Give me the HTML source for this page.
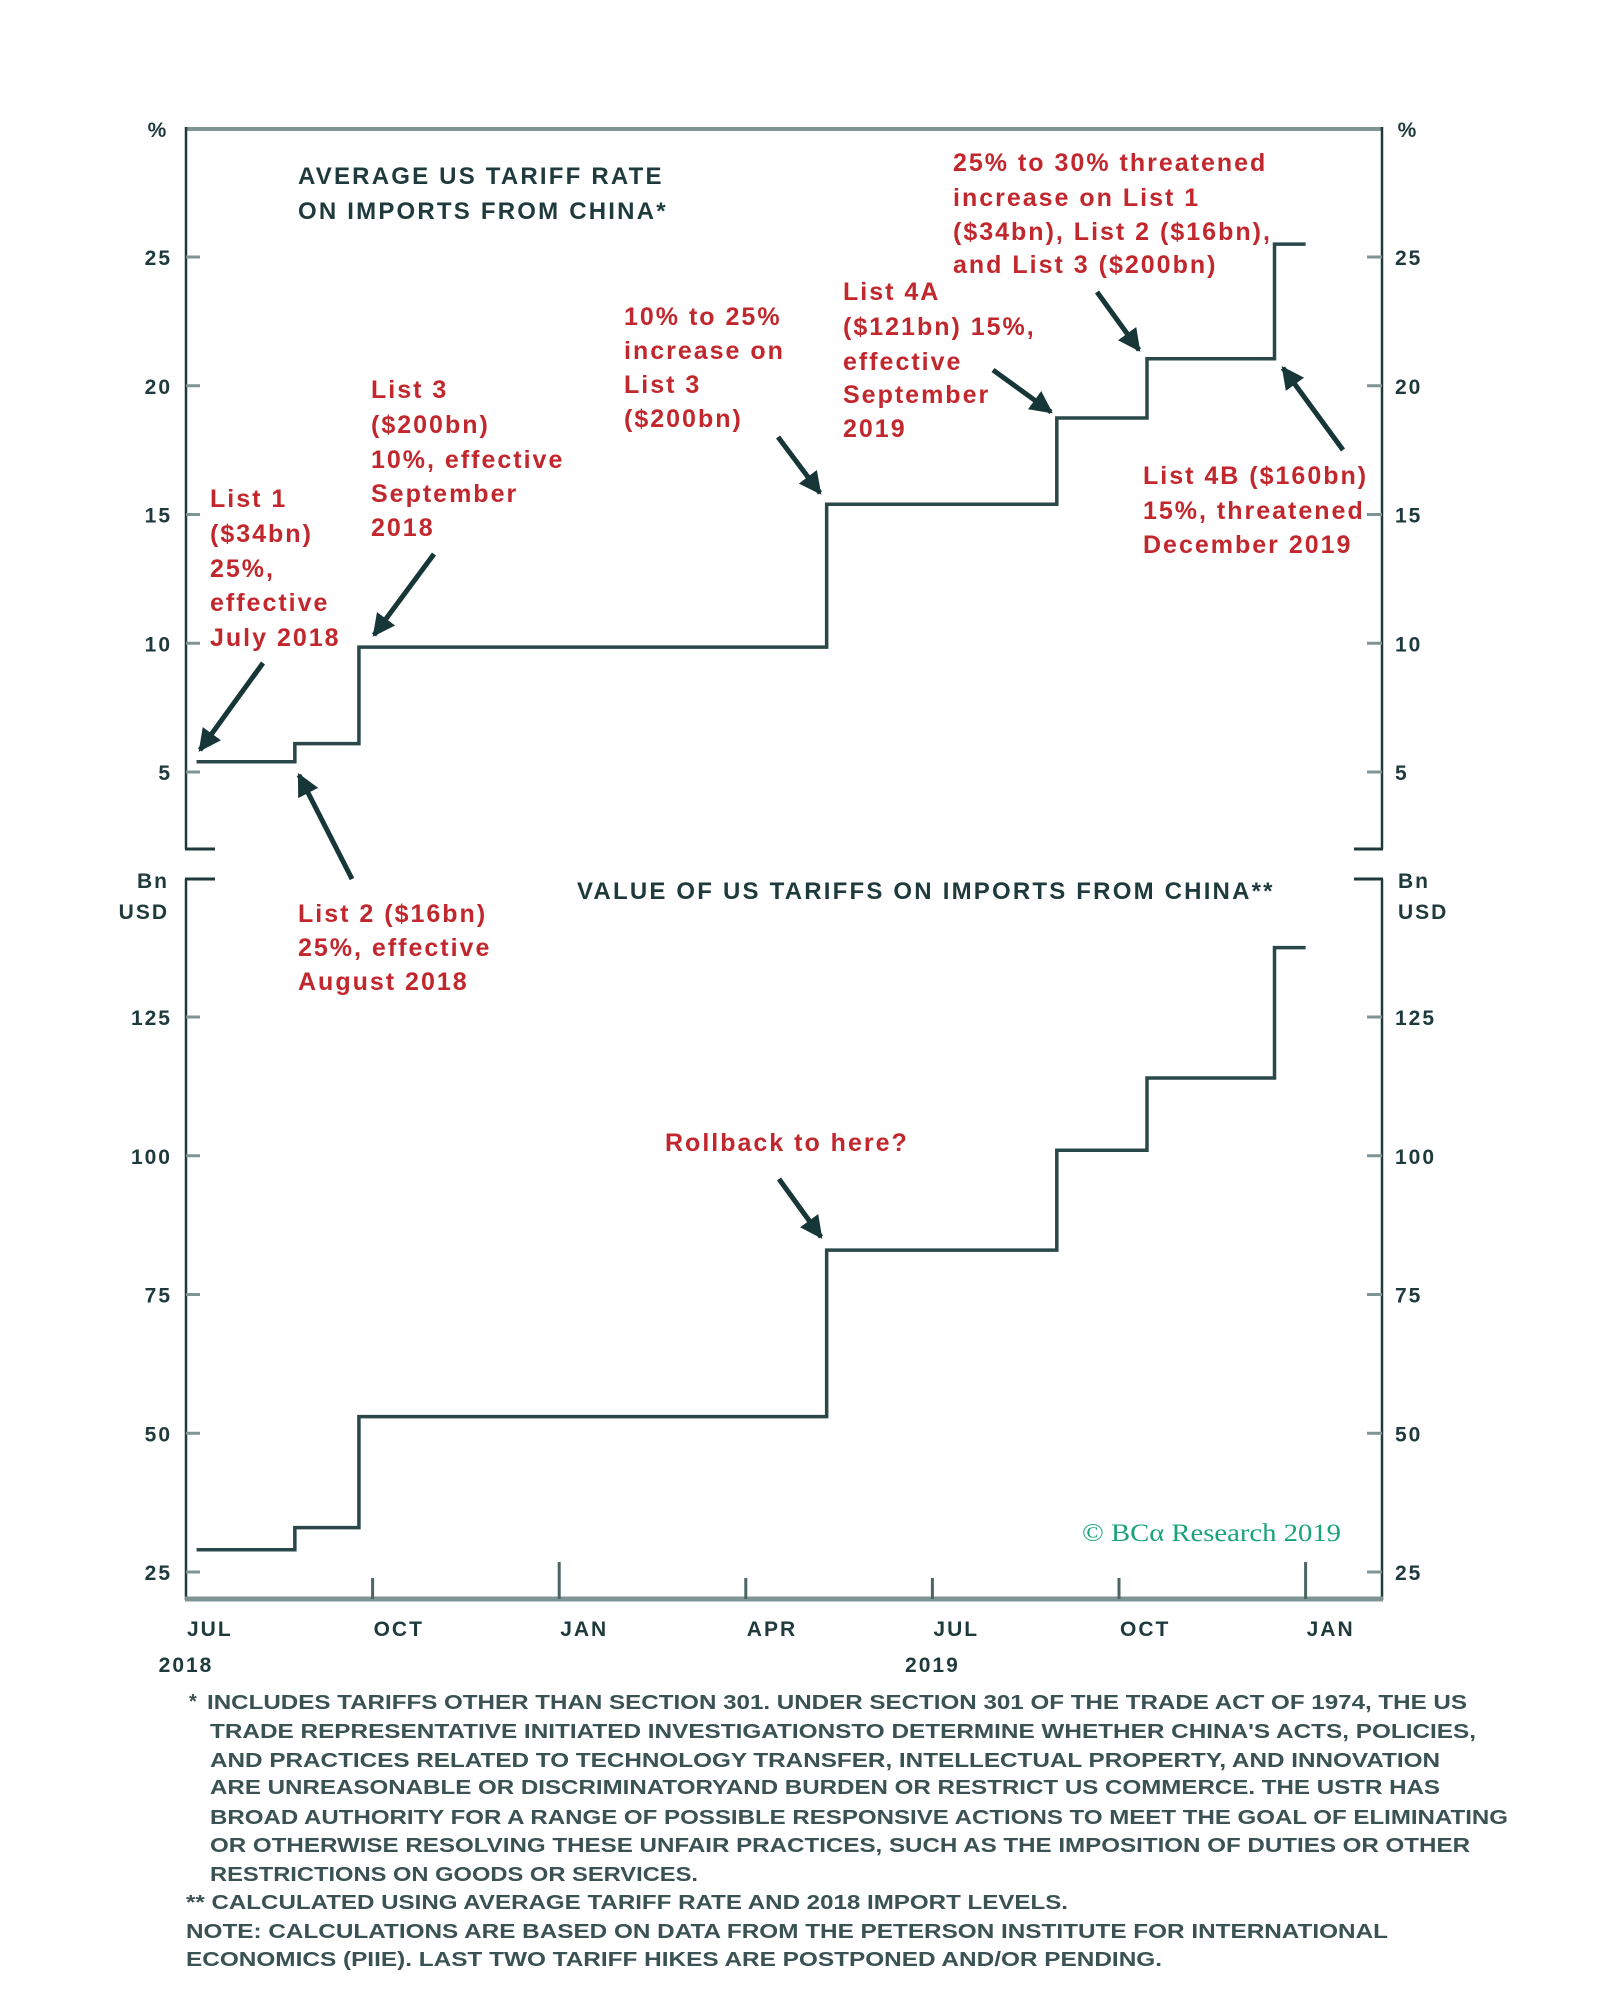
<!DOCTYPE html>
<html><head><meta charset="utf-8"><style>
html,body{margin:0;padding:0;background:#fff;}
svg{display:block;font-family:"Liberation Sans",sans-serif;}
.red{fill:#c1272d;font-weight:bold;font-size:25px;letter-spacing:2px;}
.tk{fill:#1f3a3c;font-weight:bold;font-size:21px;letter-spacing:2px;}
.fn{fill:#3a5253;font-weight:bold;font-size:20px;}
.ttl{fill:#1f3a3c;font-weight:bold;font-size:24px;letter-spacing:2.2px;}
</style></head><body>
<svg id="chart" width="1600" height="2012" viewBox="0 0 1600 2012">
<defs><marker id="ah" viewBox="0 0 10 10" refX="9" refY="5" markerWidth="4.5" markerHeight="4.5" orient="auto"><path d="M0,0 L10,5 L0,10 Z" fill="#173638"/></marker></defs>
<g id="frame">
 <line x1="186" y1="129" x2="1382" y2="129" stroke="#7f9494" stroke-width="4"/>
 <line x1="186" y1="127" x2="186" y2="849" stroke="#1f3a3c" stroke-width="2.5"/>
 <line x1="1382" y1="127" x2="1382" y2="849" stroke="#1f3a3c" stroke-width="2.5"/>
 <line x1="185" y1="849" x2="215" y2="849" stroke="#1f3a3c" stroke-width="3"/>
 <line x1="1354" y1="849" x2="1383" y2="849" stroke="#1f3a3c" stroke-width="3"/>
 <line x1="185" y1="879" x2="215" y2="879" stroke="#1f3a3c" stroke-width="3"/>
 <line x1="1354" y1="879" x2="1383" y2="879" stroke="#1f3a3c" stroke-width="3"/>
 <line x1="186" y1="879" x2="186" y2="1600" stroke="#1f3a3c" stroke-width="2.5"/>
 <line x1="1382" y1="879" x2="1382" y2="1600" stroke="#1f3a3c" stroke-width="2.5"/>
 <line x1="185" y1="1599" x2="1383" y2="1599" stroke="#7f9494" stroke-width="5"/>
</g>
<g id="axes"></g>
<g id="series"></g>
<g>
 <text class="ttl"><tspan x="298" y="184">AVERAGE US TARIFF RATE</tspan><tspan x="298" y="219">ON IMPORTS FROM CHINA*</tspan></text>
 <text class="ttl" x="577" y="899">VALUE OF US TARIFFS ON IMPORTS FROM CHINA**</text>
 <text class="tk" x="158" y="137" text-anchor="middle">%</text>
 <text class="tk" x="1408" y="137" text-anchor="middle">%</text>
 <text class="tk" x="169" y="888" text-anchor="end">Bn</text>
 <text class="tk" x="169" y="919" text-anchor="end">USD</text>
 <text class="tk" x="1398" y="888">Bn</text>
 <text class="tk" x="1398" y="919">USD</text>
 <text class="red"><tspan x="210" y="507">List 1</tspan><tspan x="210" y="542">($34bn)</tspan><tspan x="210" y="577">25%,</tspan><tspan x="210" y="611">effective</tspan><tspan x="210" y="646">July 2018</tspan></text>
 <text class="red"><tspan x="371" y="398">List 3</tspan><tspan x="371" y="433">($200bn)</tspan><tspan x="371" y="468">10%, effective</tspan><tspan x="371" y="502">September</tspan><tspan x="371" y="536">2018</tspan></text>
 <text class="red"><tspan x="624" y="325">10% to 25%</tspan><tspan x="624" y="359">increase on</tspan><tspan x="624" y="393">List 3</tspan><tspan x="624" y="427">($200bn)</tspan></text>
 <text class="red"><tspan x="843" y="300">List 4A</tspan><tspan x="843" y="335">($121bn) 15%,</tspan><tspan x="843" y="370">effective</tspan><tspan x="843" y="403">September</tspan><tspan x="843" y="437">2019</tspan></text>
 <text class="red"><tspan x="953" y="171">25% to 30% threatened</tspan><tspan x="953" y="206">increase on List 1</tspan><tspan x="953" y="240">($34bn), List 2 ($16bn),</tspan><tspan x="953" y="273">and List 3 ($200bn)</tspan></text>
 <text class="red"><tspan x="1143" y="484">List 4B ($160bn)</tspan><tspan x="1143" y="519">15%, threatened</tspan><tspan x="1143" y="553">December 2019</tspan></text>
 <text class="red"><tspan x="298" y="922">List 2 ($16bn)</tspan><tspan x="298" y="956">25%, effective</tspan><tspan x="298" y="990">August 2018</tspan></text>
 <text class="red" x="665" y="1151">Rollback to here?</text>
 <text x="1082" y="1541" fill="#1aa37a" font-family="'Liberation Serif',serif" font-size="25" textLength="259" lengthAdjust="spacingAndGlyphs">© BCα Research 2019</text>
</g>
<g stroke="#173638" stroke-width="5" marker-end="url(#ah)">
 <line x1="263" y1="663" x2="200" y2="750"/>
 <line x1="434" y1="554" x2="374" y2="635"/>
 <line x1="778" y1="437" x2="820" y2="493"/>
 <line x1="993" y1="370" x2="1051" y2="412"/>
 <line x1="1097" y1="292" x2="1139" y2="350"/>
 <line x1="1343" y1="450" x2="1283" y2="368"/>
 <line x1="352" y1="879" x2="299" y2="775"/>
 <line x1="779" y1="1179" x2="821" y2="1237"/>
</g>
<g>
 <text class="fn" x="189" y="1708">*</text>
 <text class="fn" x="207" y="1709" textLength="1260" lengthAdjust="spacingAndGlyphs">INCLUDES TARIFFS OTHER THAN SECTION 301. UNDER SECTION 301 OF THE TRADE ACT OF 1974, THE US</text>
 <text class="fn" x="210" y="1738" textLength="1266" lengthAdjust="spacingAndGlyphs">TRADE REPRESENTATIVE INITIATED INVESTIGATIONSTO DETERMINE WHETHER CHINA'S ACTS, POLICIES,</text>
 <text class="fn" x="210" y="1767" textLength="1230" lengthAdjust="spacingAndGlyphs">AND PRACTICES RELATED TO TECHNOLOGY TRANSFER, INTELLECTUAL PROPERTY, AND INNOVATION</text>
 <text class="fn" x="210" y="1794" textLength="1230" lengthAdjust="spacingAndGlyphs">ARE UNREASONABLE OR DISCRIMINATORYAND BURDEN OR RESTRICT US COMMERCE. THE USTR HAS</text>
 <text class="fn" x="210" y="1824" textLength="1298" lengthAdjust="spacingAndGlyphs">BROAD AUTHORITY FOR A RANGE OF POSSIBLE RESPONSIVE ACTIONS TO MEET THE GOAL OF ELIMINATING</text>
 <text class="fn" x="210" y="1852" textLength="1260" lengthAdjust="spacingAndGlyphs">OR OTHERWISE RESOLVING THESE UNFAIR PRACTICES, SUCH AS THE IMPOSITION OF DUTIES OR OTHER</text>
 <text class="fn" x="210" y="1881" textLength="488" lengthAdjust="spacingAndGlyphs">RESTRICTIONS ON GOODS OR SERVICES.</text>
 <text class="fn" x="186" y="1909" textLength="882" lengthAdjust="spacingAndGlyphs">** CALCULATED USING AVERAGE TARIFF RATE AND 2018 IMPORT LEVELS.</text>
 <text class="fn" x="186" y="1938" textLength="1202" lengthAdjust="spacingAndGlyphs">NOTE: CALCULATIONS ARE BASED ON DATA FROM THE PETERSON INSTITUTE FOR INTERNATIONAL</text>
 <text class="fn" x="186" y="1966" textLength="976" lengthAdjust="spacingAndGlyphs">ECONOMICS (PIIE). LAST TWO TARIFF HIKES ARE POSTPONED AND/OR PENDING.</text>
</g>
</svg>
<script>
// months since 1 Jul 2018 at which each level begins; last entry is series end
const stepMonths = [0.17, 1.75, 2.78, 10.3, 14.0, 15.45, 17.5, 18.0];
const rateValues = [5.4, 6.1, 9.85, 15.4, 18.75, 21.05, 25.5];
const valueValues = [29, 33, 53, 83, 101, 114, 137.5];
const rateTicks = [5, 10, 15, 20, 25];
const valueTicks = [25, 50, 75, 100, 125];
const monthTickPos = [0, 3, 6, 9, 12, 15, 18];
const monthLabels = ["JUL", "OCT", "JAN", "APR", "JUL", "OCT", "JAN"];
const yearLabels = [["2018", 0], ["2019", 12]];

const NS = "http://www.w3.org/2000/svg";
const xS = m => 186 + m * 62.2;
const yRate = v => 772 - (v - 5) * 25.75;
const yVal = v => 1572 - (v - 25) * 5.55;
const axes = document.getElementById('axes');
const series = document.getElementById('series');
function mk(tag, attrs, parent) {
  const e = document.createElementNS(NS, tag);
  for (const k in attrs) e.setAttribute(k, attrs[k]);
  parent.appendChild(e);
  return e;
}
function ticks(vals, yf, name) {
  vals.forEach(v => {
    const y = yf(v);
    const l1 = mk('line', {x1: 186, y1: y, x2: 200, y2: y, stroke: '#7f9494', 'stroke-width': 3}, axes);
    
    
    const l2 = mk('line', {x1: 1367, y1: y, x2: 1382, y2: y, stroke: '#7f9494', 'stroke-width': 3}, axes);
    
    
    const t1 = mk('text', {x: 172, y: y + 8, 'text-anchor': 'end', class: 'tk'}, axes);
    t1.textContent = v;
    
    
    const t2 = mk('text', {x: 1395, y: y + 8, class: 'tk'}, axes);
    t2.textContent = v;
    
    
  });
}
ticks(rateTicks, yRate, 'rate-axis');
ticks(valueTicks, yVal, 'value-axis');
monthTickPos.forEach((m, i) => {
  const x = xS(m);
  const tall = monthLabels[i] === 'JAN';
  if (m > 0) {
    const l = mk('line', {x1: x, y1: 1599, x2: x, y2: tall ? 1562 : 1578, stroke: '#4d6566', 'stroke-width': 3}, axes);
    
    
  }
  const t = mk('text', {x: x + 1, y: 1636, class: 'tk'}, axes);
  t.textContent = monthLabels[i];
  
  
});
yearLabels.forEach(([lab, m]) => {
  const t = mk('text', {x: xS(m), y: 1672, 'text-anchor': 'middle', class: 'tk'}, axes);
  t.textContent = lab;
  
  
});
function stepPath(vals, yf) {
  let d = 'M' + xS(stepMonths[0]) + ',' + yf(vals[0]);
  for (let i = 1; i < vals.length; i++) {
    d += ' H' + xS(stepMonths[i]) + ' V' + yf(vals[i]);
  }
  d += ' H' + xS(stepMonths[stepMonths.length - 1]);
  return d;
}
const p1 = mk('path', {d: stepPath(rateValues, yRate), fill: 'none', stroke: '#2a4749', 'stroke-width': 3.5}, series);


const p2 = mk('path', {d: stepPath(valueValues, yVal), fill: 'none', stroke: '#2a4749', 'stroke-width': 3.5}, series);


</script>
</body></html>
